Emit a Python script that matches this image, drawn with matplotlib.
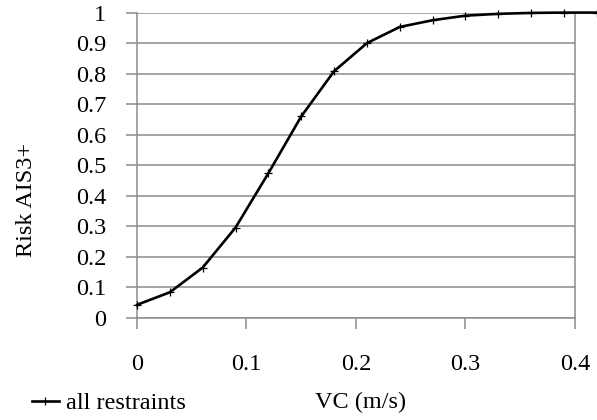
import numpy as np
from matplotlib import pyplot as plt

# VC (m/s) vs risk of AIS3+ injury
vc = [0.0, 0.03, 0.06, 0.09, 0.12, 0.15, 0.18, 0.21, 0.24, 0.27,
      0.30, 0.33, 0.36, 0.39, 0.42]
risk = [0.043, 0.084, 0.165, 0.296, 0.474, 0.66, 0.808, 0.90, 0.953, 0.975,
        0.99, 0.996, 0.999, 1.0, 1.0]
xticks = [0, 0.1, 0.2, 0.3, 0.4]
yticks = np.round(np.arange(0, 1.01, 0.1), 1)

plt.rcParams['font.family'] = 'Liberation Serif'
fs = 17.5

fig = plt.figure(figsize=(5.97, 4.2), dpi=100)
ax = fig.add_axes([0.2295, 0.243, 0.7335, 0.727])

ax.plot(vc, risk, color='black', lw=1.9, marker='+', ms=6, mew=0.9,
        clip_on=False, zorder=5, label='all restraints')

ax.set_xlim(0, 0.4)
ax.set_ylim(0, 1)
ax.set_xticks(xticks)
ax.set_xticklabels(['0', '0.1', '0.2', '0.3', '0.4'])
ax.set_yticks(yticks)
ax.set_yticklabels(['0'] + ['%.1f' % v for v in yticks[1:-1]] + ['1'])

ax.yaxis.grid(True, color='#8c8c8c', lw=1.1)
ax.set_axisbelow(True)
for side in ['left', 'right', 'bottom']:
    ax.spines[side].set_color('#8c8c8c')
    ax.spines[side].set_linewidth(1.1)
ax.spines['top'].set_visible(False)

ax.tick_params(axis='both', direction='out', length=8, width=1.1,
               color='#8c8c8c', labelsize=fs)
ax.tick_params(axis='x', pad=18)
ax.tick_params(axis='y', pad=14)

ax.set_ylabel('Risk AIS3+', fontsize=fs, va='center')
ax.yaxis.set_label_coords(-0.253, 0.386)
ax.set_xlabel('VC (m/s)', fontsize=fs, va='center')
ax.xaxis.set_label_coords(0.51, -0.278)

ax.legend(loc='center left', bbox_to_anchor=(0.033, 0.04),
          bbox_transform=fig.transFigure, frameon=False, fontsize=fs,
          handlelength=1.1, handletextpad=0.3, borderpad=0)

fig.savefig('out.png', dpi=100)
